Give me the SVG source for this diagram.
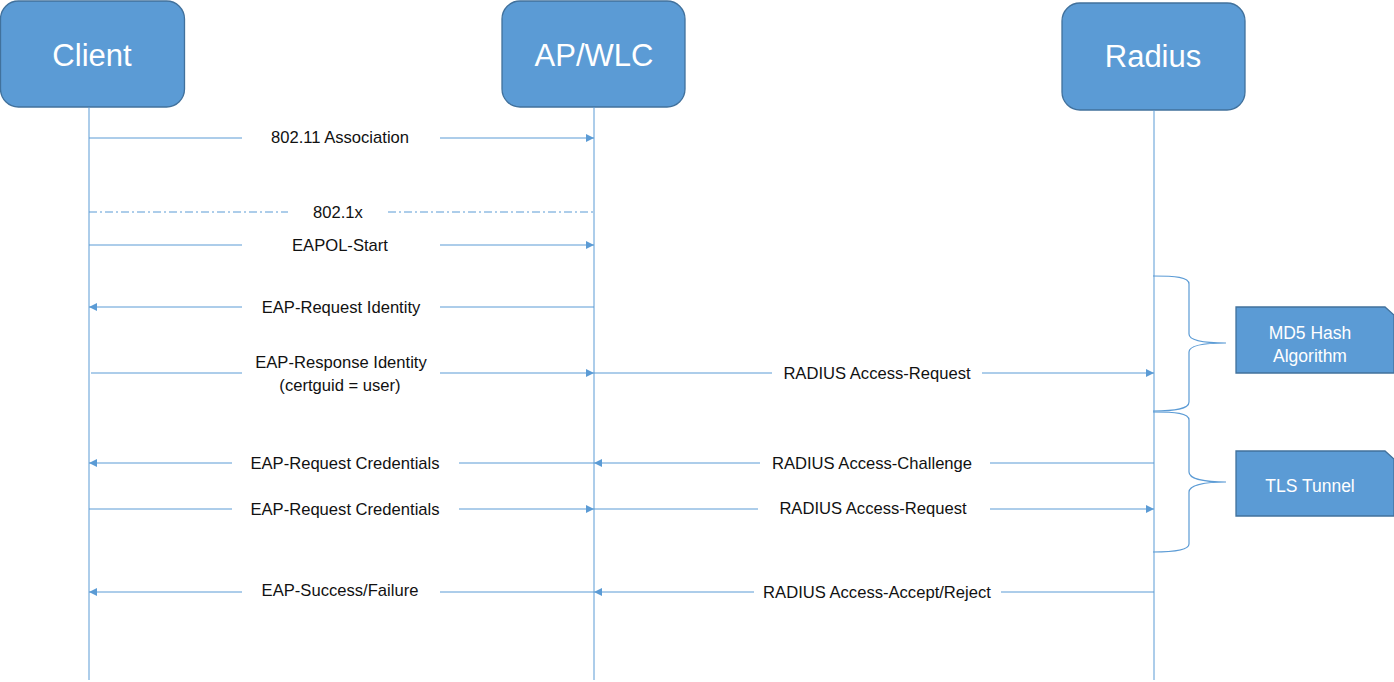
<svg xmlns="http://www.w3.org/2000/svg" width="1394" height="682" viewBox="0 0 1394 682">
<defs>
<style>
.box{fill:#5B9BD5;stroke:#41719C;stroke-width:1.3}
.hdr{font-family:"Liberation Sans",Arial,sans-serif;font-size:31px;fill:#fff;text-anchor:middle}
.note{font-family:"Liberation Sans",Arial,sans-serif;font-size:17.5px;fill:#fff;text-anchor:middle}
.lbl{font-family:"Liberation Sans",Arial,sans-serif;font-size:16.6px;fill:#111;text-anchor:middle}
.life{stroke:#5B9BD5;stroke-width:1;fill:none}
.msg{stroke:#5B9BD5;stroke-width:1;fill:none}
.arr{stroke:#5B9BD5;stroke-width:1;fill:none;marker-end:url(#ah)}
.dd{stroke:#5B9BD5;stroke-width:1;fill:none;stroke-dasharray:8 3 2 3}
.brace{stroke:#5B9BD5;stroke-width:1.2;fill:none}
</style>
<marker id="ah" viewBox="0 0 10 10" refX="10" refY="5" markerWidth="9" markerHeight="8" markerUnits="userSpaceOnUse" orient="auto">
<path d="M0,0 L10,5 L0,10 z" fill="#5B9BD5"/>
</marker>
</defs>

<g id="client">
<rect class="box" x="0.5" y="1" width="184" height="106" rx="18"/>
<text class="hdr" x="92" y="66">Client</text>
</g>
<g id="apwlc">
<rect class="box" x="502" y="1" width="183" height="106" rx="18"/>
<text class="hdr" x="594" y="66">AP/WLC</text>
</g>
<g id="radius">
<rect class="box" x="1062" y="3" width="183" height="107" rx="18"/>
<text class="hdr" x="1153" y="67">Radius</text>
</g>

<g id="lifelines">
<line class="life" x1="89" y1="107" x2="89" y2="680"/>
<line class="life" x1="594" y1="107" x2="594" y2="680"/>
<line class="life" x1="1154" y1="110" x2="1154" y2="680"/>
</g>

<g id="connectors">
<line class="msg" x1="89" y1="138" x2="242" y2="138"/>
<line class="arr" x1="440" y1="138" x2="594" y2="138"/>
<line class="dd" x1="89" y1="212" x2="288" y2="212"/>
<line class="dd" x1="388" y1="212" x2="594" y2="212"/>
<line class="msg" x1="89" y1="245" x2="242" y2="245"/>
<line class="arr" x1="440" y1="245" x2="594" y2="245"/>
<line class="msg" x1="594" y1="307" x2="440" y2="307"/>
<line class="arr" x1="242" y1="307" x2="89" y2="307"/>
<line class="msg" x1="91" y1="373" x2="242" y2="373"/>
<line class="arr" x1="440" y1="373" x2="594" y2="373"/>
<line class="msg" x1="594" y1="373" x2="772" y2="373"/>
<line class="arr" x1="982" y1="373" x2="1154" y2="373"/>
<line class="msg" x1="594" y1="463" x2="459" y2="463"/>
<line class="arr" x1="232" y1="463" x2="89" y2="463"/>
<line class="msg" x1="1154" y1="463" x2="990" y2="463"/>
<line class="arr" x1="760" y1="463" x2="594" y2="463"/>
<line class="msg" x1="89" y1="509" x2="232" y2="509"/>
<line class="arr" x1="459" y1="509" x2="594" y2="509"/>
<line class="msg" x1="594" y1="509" x2="758" y2="509"/>
<line class="arr" x1="990" y1="509" x2="1154" y2="509"/>
<line class="msg" x1="594" y1="592" x2="440" y2="592"/>
<line class="arr" x1="242" y1="592" x2="89" y2="592"/>
<line class="msg" x1="1154" y1="592" x2="1001" y2="592"/>
<line class="arr" x1="754" y1="592" x2="594" y2="592"/>
</g>

<g id="labels">
<text class="lbl" x="340" y="143">802.11 Association</text>
<text class="lbl" x="338" y="218">802.1x</text>
<text class="lbl" x="340" y="251">EAPOL-Start</text>
<text class="lbl" x="341" y="313">EAP-Request Identity</text>
<text class="lbl" x="341" y="368">EAP-Response Identity</text>
<text class="lbl" x="340" y="391">(certguid = user)</text>
<text class="lbl" x="877" y="379">RADIUS Access-Request</text>
<text class="lbl" x="345" y="469">EAP-Request Credentials</text>
<text class="lbl" x="872" y="469">RADIUS Access-Challenge</text>
<text class="lbl" x="345" y="515">EAP-Request Credentials</text>
<text class="lbl" x="873" y="514">RADIUS Access-Request</text>
<text class="lbl" x="340" y="596">EAP-Success/Failure</text>
<text class="lbl" x="877" y="598">RADIUS Access-Accept/Reject</text>
</g>

<g id="brace-md5">
<path class="brace" d="M1153,276 C1175,276 1189,277 1189,284 L1189,334 C1189,341 1205,343 1226,343 C1205,343 1189,345 1189,352 L1189,402 C1189,409 1175,411 1153,411"/>
</g>
<g id="brace-tls">
<path class="brace" d="M1153,412 C1175,412 1189,413 1189,420 L1189,472 C1189,479 1205,482 1226,482 C1205,482 1189,485 1189,492 L1189,544 C1189,550 1175,552 1153,552"/>
</g>

<g id="note-md5">
<path class="box" d="M1236,307 L1385,307 L1394,315 L1394,373 L1236,373 Z"/>
<text class="note" x="1310" y="339">MD5 Hash</text>
<text class="note" x="1310" y="362">Algorithm</text>
</g>
<g id="note-tls">
<path class="box" d="M1236,451 L1385,451 L1394,459 L1394,516 L1236,516 Z"/>
<text class="note" x="1310" y="492">TLS Tunnel</text>
</g>
</svg>
